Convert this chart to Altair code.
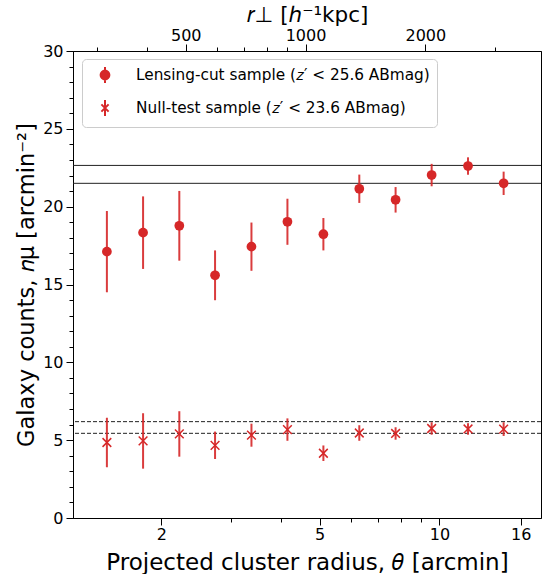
import altair as alt
import pandas as pd

RED = "#d62728"
FONT = "DejaVu Sans"

# ---- data ----
theta = [1.46, 1.80, 2.22, 2.73, 3.37, 4.15, 5.11, 6.29, 7.76, 9.56, 11.8, 14.5]
lens_n = [17.11, 18.33, 18.77, 15.59, 17.43, 19.03, 18.23, 21.15, 20.44, 22.03, 22.61, 21.50]
lens_err = [2.61, 2.33, 2.24, 1.60, 1.55, 1.48, 1.04, 0.91, 0.82, 0.72, 0.56, 0.75]
null_n = [4.85, 4.95, 5.40, 4.67, 5.32, 5.68, 4.16, 5.46, 5.43, 5.75, 5.72, 5.71]
null_err = [1.59, 1.78, 1.46, 0.88, 0.74, 0.72, 0.50, 0.50, 0.40, 0.40, 0.37, 0.44]
lens_ref = [21.5, 22.65]
null_ref = [5.44, 6.19]
series = ["Lensing-cut sample (\U0001D467\u2032 < 25.6 ABmag)",
          "Null-test sample (\U0001D467\u2032 < 23.6 ABmag)"]

x_major = [2, 5, 10, 16]
x_minor = [3, 4, 6, 7, 8, 9]
y_major = [0, 5, 10, 15, 20, 25, 30]
y_minor = [v for v in range(0, 31) if v % 5]
r_major = [500, 1000, 2000]
r_minor = [300, 400, 600, 700, 800, 900, 3000]
theta_domain = [1.2, 18]
r_domain = [260.4, 3906]
y_domain = [0, 30]

XPATH = "M-1,-1L1,1M-1,1L1,-1"
LEG_CIRCLE = "M0,-1L0,1M-0.55,0A0.55,0.55,0,1,0,0.55,0A0.55,0.55,0,1,0,-0.55,0Z"
LEG_X = "M0,-1L0,1M-0.45,-0.45L0.45,0.45M-0.45,0.45L0.45,-0.45"

df_lens = pd.DataFrame({"theta": theta, "n": lens_n, "err": lens_err})
df_null = pd.DataFrame({"theta": theta, "n": null_n, "err": null_err})
df_leg = pd.concat([
    pd.DataFrame({"theta": theta, "n": lens_n, "series": series[0]}),
    pd.DataFrame({"theta": theta, "n": null_n, "series": series[1]}),
])

xs = alt.Scale(type="log", domain=theta_domain, nice=False)
ys = alt.Scale(domain=y_domain, nice=False, zero=False)
rs = alt.Scale(type="log", domain=r_domain, nice=False)

common = dict(grid=False, titleFontWeight="normal", titleFont=FONT, labelFont=FONT,
              labelColor="black", titleColor="black", domainColor="black",
              tickColor="black", domainWidth=1, tickWidth=1)

x_major_axis = alt.Axis(orient="bottom", values=x_major, format="d", tickSize=7,
                        labelPadding=1, labelFontSize=16, labelFlush=False,
                        title="Projected cluster radius, \U0001D703 [arcmin]",
                        titleFontSize=23, titleY=51, titleBaseline="alphabetic", **common)
x_minor_axis = alt.Axis(orient="bottom", values=x_minor, tickSize=4, labels=False,
                        domain=False, title=None, **common)
y_major_axis = alt.Axis(orient="left", values=y_major, format="d", tickSize=7,
                        labelPadding=3, labelFontSize=16, labelFlush=False,
                        title="Galaxy counts, \U0001D45B\u03BC [arcmin\u207B\u00B2]",
                        titleFontSize=22.5, titleX=-40, titleBaseline="alphabetic", **common)
y_minor_axis = alt.Axis(orient="left", values=y_minor, tickSize=4, labels=False,
                        domain=False, title=None, **common)
r_major_axis = alt.Axis(orient="top", values=r_major, format="d", tickSize=7,
                        labelPadding=1, labelFontSize=16, labelFlush=False,
                        title="\U0001D45F\u22A5 [\u210E\u207B\u00B9kpc]",
                        titleFontSize=21.5, titleY=-30, titleBaseline="alphabetic", **common)
r_minor_axis = alt.Axis(orient="top", values=r_minor, tickSize=4, labels=False,
                        domain=False, title=None, **common)

hl_lens = alt.Chart(pd.DataFrame({"y": lens_ref})).mark_rule(
    color="#222222", strokeWidth=1).encode(y=alt.Y("y:Q", scale=ys, axis=None))
hl_null = alt.Chart(pd.DataFrame({"y": null_ref})).mark_rule(
    color="#222222", strokeWidth=1, strokeDash=[4, 2]).encode(
    y=alt.Y("y:Q", scale=ys, axis=None))

eb_lens = alt.Chart(df_lens).transform_calculate(
    lo="datum.n - datum.err", hi="datum.n + datum.err"
).mark_rule(color=RED, strokeWidth=2, opacity=0.9).encode(
    x=alt.X("theta:Q", scale=xs, axis=x_major_axis),
    y=alt.Y("lo:Q", scale=ys, axis=y_major_axis),
    y2="hi:Q",
)
eb_null = alt.Chart(df_null).transform_calculate(
    lo="datum.n - datum.err", hi="datum.n + datum.err"
).mark_rule(color=RED, strokeWidth=2, opacity=0.9).encode(
    x=alt.X("theta:Q", scale=xs, axis=x_minor_axis),
    y=alt.Y("lo:Q", scale=ys, axis=y_minor_axis),
    y2="hi:Q",
)
pt_lens = alt.Chart(df_lens).mark_point(
    shape="circle", filled=True, size=95, color=RED, opacity=1).encode(
    x=alt.X("theta:Q", scale=xs, axis=None),
    y=alt.Y("n:Q", scale=ys, axis=None),
)
pt_null = alt.Chart(df_null).mark_point(
    shape=XPATH, filled=False, size=76, strokeWidth=1.5, color=RED, opacity=1).encode(
    x=alt.X("theta:Q", scale=xs, axis=None),
    y=alt.Y("n:Q", scale=ys, axis=None),
)

legend = alt.Legend(title=None, orient="none", legendX=9, legendY=8,
                    padding=7, symbolOffset=7, labelOffset=22,
                    rowPadding=9, strokeColor="#cccccc",
                    cornerRadius=4, fillColor="rgba(255,255,255,0.85)",
                    labelFontSize=15.3, labelFont=FONT, labelColor="black",
                    labelLimit=500, symbolSize=256, symbolStrokeWidth=2,
                    symbolOpacity=1)
leg = alt.Chart(df_leg).mark_point(
    filled=True, strokeWidth=2, opacity=0, size=256).encode(
    x=alt.X("theta:Q", scale=xs, axis=None),
    y=alt.Y("n:Q", scale=ys, axis=None),
    shape=alt.Shape("series:N", scale=alt.Scale(domain=series, range=[LEG_CIRCLE, LEG_X]),
                    legend=legend),
    fill=alt.Fill("series:N", scale=alt.Scale(domain=series, range=[RED, RED]),
                  legend=legend),
    stroke=alt.Stroke("series:N", scale=alt.Scale(domain=series, range=[RED, RED]),
                      legend=legend),
)

inner = alt.layer(hl_lens, hl_null, eb_lens, eb_null, pt_lens, pt_null, leg).resolve_axis(
    x="independent", y="independent")

top_major = alt.Chart(pd.DataFrame({"r": r_major})).mark_point(opacity=0).encode(
    x=alt.X("r:Q", scale=rs, axis=r_major_axis))
top_minor = alt.Chart(pd.DataFrame({"r": r_minor})).mark_point(opacity=0).encode(
    x=alt.X("r:Q", scale=rs, axis=r_minor_axis))

chart = alt.layer(inner, top_major, top_minor).resolve_scale(x="independent").properties(
    width=468, height=467,
    padding={"left": 73, "top": 51, "right": 10, "bottom": 56},
    autosize=alt.AutoSizeParams(type="none"),
    background="white",
).configure_view(stroke="black", strokeWidth=1).configure_axis(
    labelFont=FONT, titleFont=FONT, labelColor="black", titleColor="black",
    domainColor="black", tickColor="black", titleFontWeight="normal",
    grid=False, domainWidth=1, tickWidth=1,
)

chart.save("out.html", embed_options={"renderer": "svg", "actions": False})
